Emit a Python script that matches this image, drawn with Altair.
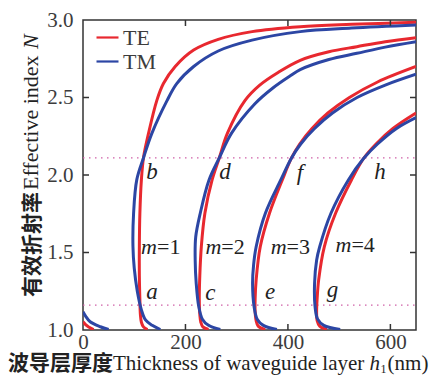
import altair as alt
import pandas as pd

# ---------------- data ----------------
te_m0_x = [0, 5, 11, 20.7]
te_m0_n = [1.053, 1.035, 1.02, 1.003]
tm_m0_x = [0, 5, 14, 34, 50]
tm_m0_n = [1.118, 1.09, 1.053, 1.021, 1.003]

te_m1_x = [126, 118, 114, 112, 111, 110, 110, 111, 114, 118, 128, 144, 157, 180, 216, 264, 330, 424, 524, 650]
te_m1_n = [1.003, 1.02, 1.05, 1.1, 1.2, 1.35, 1.54, 1.75, 1.97, 2.11, 2.27, 2.48, 2.59, 2.70, 2.806, 2.875, 2.925, 2.957, 2.972, 2.985]
tm_m1_x = [151, 135, 122, 114, 106, 100, 97.5, 98.7, 105, 118, 134.6, 164, 183, 216, 264, 330, 424, 524, 650]
tm_m1_n = [1.003, 1.03, 1.065, 1.13, 1.25, 1.4, 1.54, 1.75, 1.97, 2.11, 2.27, 2.48, 2.59, 2.70, 2.80, 2.87, 2.925, 2.948, 2.968]

te_m2_x = [245, 234, 230, 228, 227, 228, 231, 238, 252, 266, 282, 316, 345, 380, 424, 480, 534.6, 590, 650]
te_m2_n = [1.003, 1.02, 1.05, 1.1, 1.2, 1.35, 1.54, 1.755, 1.968, 2.11, 2.27, 2.48, 2.58, 2.66, 2.74, 2.795, 2.828, 2.86, 2.886]
tm_m2_x = [268, 245, 233, 226, 221, 219, 220, 229, 246, 266, 290, 335.6, 370, 404.6, 424, 480, 534.6, 590, 650]
tm_m2_n = [1.003, 1.03, 1.07, 1.15, 1.3, 1.45, 1.6, 1.755, 1.968, 2.11, 2.27, 2.46, 2.56, 2.64, 2.68, 2.745, 2.785, 2.825, 2.86]

te_m3_x = [355.7, 342, 338, 336, 336, 338, 346, 364, 389, 407, 423, 447, 478, 520, 575, 650]
te_m3_n = [1.003, 1.025, 1.06, 1.12, 1.2, 1.323, 1.537, 1.753, 1.968, 2.11, 2.2, 2.3, 2.4, 2.5, 2.6, 2.7]
tm_m3_x = [378.5, 352, 340, 334, 331, 333, 338, 356, 386, 407, 425, 452, 487, 535, 590, 650]
tm_m3_n = [1.003, 1.03, 1.07, 1.15, 1.3, 1.42, 1.537, 1.753, 1.968, 2.11, 2.2, 2.3, 2.4, 2.5, 2.58, 2.65]

te_m4_x = [476, 462, 457, 456, 457, 460, 471, 493, 524, 548, 572, 605, 650]
te_m4_n = [1.003, 1.025, 1.06, 1.12, 1.2, 1.323, 1.537, 1.753, 1.968, 2.108, 2.2, 2.3, 2.4]
tm_m4_x = [502, 470, 458, 453, 452, 456, 462, 484, 518, 548, 575, 612, 650]
tm_m4_n = [1.003, 1.03, 1.07, 1.15, 1.3, 1.45, 1.537, 1.753, 1.968, 2.108, 2.2, 2.3, 2.37]

guide_n = [2.11, 1.16]

point_labels = ["a", "b", "c", "d", "e", "f", "g", "h"]
point_x = [134.6, 134.6, 248.4, 277, 365, 423.4, 487, 579.5]
point_n = [1.247, 2.021, 1.24, 2.021, 1.247, 2.01, 1.258, 2.021]

mode_text = ["=1", "=2", "=3", "=4"]
mode_x = [144.4, 270, 397.3, 524]
mode_n = [1.537, 1.537, 1.537, 1.548]

x_ticks = [0, 200, 400, 600]
y_ticks = [1.0, 1.5, 2.0, 2.5, 3.0]
x_minor = [200, 400, 600]
y_minor = [1.5, 2.0, 2.5]

# ---------------- tables ----------------
curves = [
    ("TE", "te0", te_m0_x, te_m0_n), ("TM", "tm0", tm_m0_x, tm_m0_n),
    ("TE", "te1", te_m1_x, te_m1_n), ("TM", "tm1", tm_m1_x, tm_m1_n),
    ("TE", "te2", te_m2_x, te_m2_n), ("TM", "tm2", tm_m2_x, tm_m2_n),
    ("TE", "te3", te_m3_x, te_m3_n), ("TM", "tm3", tm_m3_x, tm_m3_n),
    ("TE", "te4", te_m4_x, te_m4_n), ("TM", "tm4", tm_m4_x, tm_m4_n),
]
rows = []
for pol, cid, xs, ns in curves:
    for i, (xv, nv) in enumerate(zip(xs, ns)):
        rows.append({"x": xv, "N": nv, "pol": pol, "curve": cid, "i": i})
df = pd.DataFrame(rows)

W, H = 333, 310
RED, BLUE = "#e8282f", "#2c46a4"
SERIF = "Liberation Serif, Times New Roman, serif"
CJK = "Noto Sans CJK SC"
AX = "#333333"
LAB = "#3c3c3c"
TXT = "#222222"

xscale = alt.Scale(domain=[0, 650], nice=False, zero=False)
yscale = alt.Scale(domain=[1, 3], nice=False, zero=False)

X = alt.X("x:Q", scale=xscale, title=None,
          axis=alt.Axis(values=x_ticks, ticks=False, domain=False, grid=False,
                        labelFont=SERIF, labelFontSize=21, labelColor=LAB, labelPadding=1,
                        labelFlush=False))
Y = alt.Y("N:Q", scale=yscale, title=None,
          axis=alt.Axis(values=y_ticks, format=".1f", ticks=False, domain=False, grid=False,
                        labelFont=SERIF, labelFontSize=21, labelColor=LAB, labelPadding=10,
                        labelFlush=False))
color = alt.Color("pol:N", scale=alt.Scale(domain=["TE", "TM"], range=[RED, BLUE]),
                  legend=alt.Legend(title=None, orient="none", legendX=12, legendY=5,
                                    symbolType="stroke", symbolSize=484, symbolStrokeWidth=2.2,
                                    labelFont=SERIF, labelFontSize=22, labelColor=LAB,
                                    labelOffset=3, rowPadding=0, padding=0))

base = alt.Chart(df)
te_line = base.transform_filter(alt.datum.pol == "TE").mark_line(
    strokeWidth=3, clip=True, interpolate="catmull-rom").encode(
    x=X, y=Y, color=color, detail="curve:N", order="i:Q")
tm_line = base.transform_filter(alt.datum.pol == "TM").mark_line(
    strokeWidth=3, clip=True, interpolate="catmull-rom").encode(
    x=alt.X("x:Q", scale=xscale, title=None), y=alt.Y("N:Q", scale=yscale, title=None),
    color=color, detail="curve:N", order="i:Q")

guides = alt.Chart(pd.DataFrame({"N": guide_n})).mark_rule(
    color="#d060a8", strokeWidth=1.3, strokeDash=[1.5, 4.5]).encode(
    y=alt.Y("N:Q", scale=yscale, title=None), x=alt.value(0), x2=alt.value(W))

letters = alt.Chart(pd.DataFrame({"x": point_x, "N": point_n, "t": point_labels})).mark_text(
    font=SERIF, fontSize=23, fontStyle="italic", color=TXT).encode(
    x=alt.X("x:Q", scale=xscale, title=None), y=alt.Y("N:Q", scale=yscale, title=None), text="t:N")

mdf = pd.DataFrame({"x": mode_x, "N": mode_n, "t": mode_text, "m": ["m"] * 4})
m_italic = alt.Chart(mdf).mark_text(
    font=SERIF, fontSize=22, fontStyle="italic", align="right", color=TXT).encode(
    x=alt.X("x:Q", scale=xscale, title=None), y=alt.Y("N:Q", scale=yscale, title=None), text="m:N")
m_rest = alt.Chart(mdf).mark_text(
    font=SERIF, fontSize=22, align="left", color=TXT).encode(
    x=alt.X("x:Q", scale=xscale, title=None), y=alt.Y("N:Q", scale=yscale, title=None), text="t:N")

# inward ticks on all four sides
TL = 6
xt = pd.DataFrame({"x": x_minor})
yt = pd.DataFrame({"N": y_minor})
tick_style = dict(color=AX, strokeWidth=1.5)
t_bottom = alt.Chart(xt).mark_rule(**tick_style).encode(
    x=alt.X("x:Q", scale=xscale, title=None), y=alt.value(H), y2=alt.value(H - TL))
t_top = alt.Chart(xt).mark_rule(**tick_style).encode(
    x=alt.X("x:Q", scale=xscale, title=None), y=alt.value(0), y2=alt.value(TL))
t_left = alt.Chart(yt).mark_rule(**tick_style).encode(
    y=alt.Y("N:Q", scale=yscale, title=None), x=alt.value(0), x2=alt.value(TL))
t_right = alt.Chart(yt).mark_rule(**tick_style).encode(
    y=alt.Y("N:Q", scale=yscale, title=None), x=alt.value(W), x2=alt.value(W - TL))


def label(text, px, py, font, size, style="normal", weight="normal", angle=0, align="left"):
    return alt.Chart(alt.Data(values=[{"t": text}])).mark_text(
        font=font, fontSize=size, fontStyle=style, fontWeight=weight, angle=angle,
        align=align, baseline="alphabetic", color=TXT).encode(
        x=alt.value(px), y=alt.value(py), text="t:N")


# x axis title (pixel offsets relative to plot origin)
XB = 350
FS = 21
en_start = 30
h_start = en_start + FS * (11.97 + 0.25)
sub_start = h_start + FS * 0.5 + 0.5
nm_start = sub_start + 7
xt_cn = label("波导层厚度", -75, XB, CJK, 21, weight="bold")
xt_en = label("Thickness of waveguide layer", en_start, XB, SERIF, FS)
xt_h = label("h", h_start, XB, SERIF, FS, style="italic")
xt_1 = label("1", sub_start, XB + 3, SERIF, 12)
xt_nm = label("(nm)", nm_start, XB, SERIF, FS)

# y axis title (rotated)
YX = -45
yt_cn = label("有效折射率", YX + 1, 277, CJK, 21, weight="bold", angle=270)
yt_en = label("Effective index", YX, 170, SERIF, 22, angle=270)
yt_N = label("N", YX, 29, SERIF, 22, style="italic", angle=270)

chart = alt.layer(
    guides, te_line, tm_line, letters, m_italic, m_rest,
    t_bottom, t_top, t_left, t_right,
    xt_cn, xt_en, xt_h, xt_1, xt_nm, yt_cn, yt_en, yt_N,
).properties(
    width=W, height=H,
    autosize=alt.AutoSizeParams(type="none"),
    padding={"left": 83, "top": 20, "right": 22, "bottom": 46},
    background="white",
).configure_view(stroke=AX, strokeWidth=1.5)

chart.save("out.html", embed_options={"renderer": "svg", "actions": False})
